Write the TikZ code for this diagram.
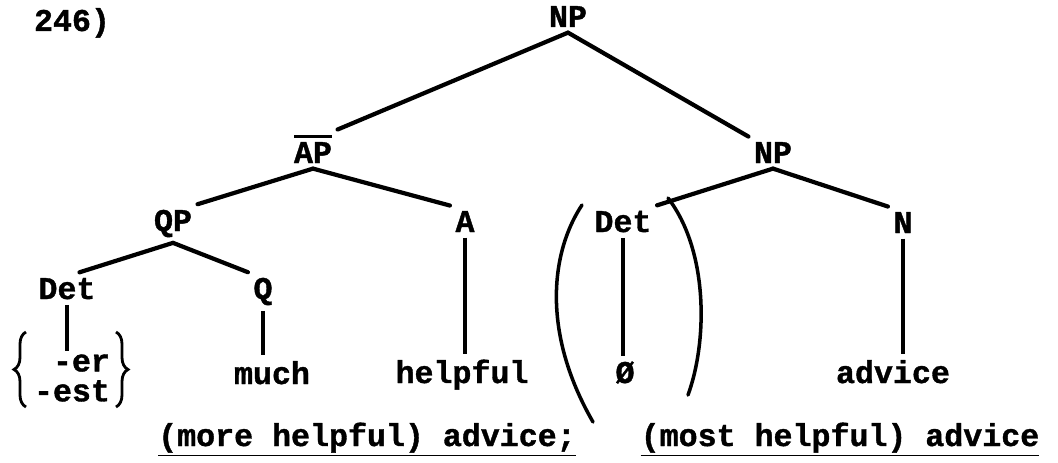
\documentclass[tikz,border=0pt]{standalone}
\usepackage{fontspec}
\setmonofont{Liberation Mono}[BoldFeatures={FakeBold=1.2}]
\usetikzlibrary{positioning,decorations.pathreplacing}
\newcommand{\barlabel}[1]{\vbox{\hrule height 1.8pt\kern 2.2pt\hbox{#1}}}

\begin{document}
\begin{tikzpicture}[
    x=0.02cm, y=-0.02cm,
    cat/.style={inner sep=3pt, anchor=base,
                font=\fontsize{18}{21}\selectfont\ttfamily\bfseries},
    braced/.style={inner sep=2pt, align=right,
                   font=\fontsize{18}{17}\selectfont\ttfamily\bfseries},
    branch/.style={line width=2.4pt, line cap=round},
    stem/.style={line width=1.8pt},
    paren/.style={line width=2pt, line cap=round},
    curly/.style={line width=1.6pt, decorate,
                  decoration={brace, amplitude=0.24cm}}
]
\useasboundingbox (0,0) rectangle (1058,463);

\node[cat] (num) at (72,31) {246)};

% top of the tree
\node[cat] (np) at (568,27) {NP};
\node[cat] (ap) at (313,163) {\barlabel{AP}};
\node[cat] (npr) at (773,163) {NP};

% third row
\node[cat] (qp) at (173,231) {QP};
\node[cat] (a) at (465,232) {A};
\node[cat] (detr) at (623,232) {Det};
\node[cat] (n) at (903,233) {N};

% fourth row
\node[cat] (detl) at (67,299) {Det};
\node[cat] (q) at (263,299) {Q};

% words
\node[braced] (morph) at (72,378) {-er\\-est};
\draw[curly] (26,407) -- (26,332);
\draw[curly] (116,332) -- (116,407);
\node[cat] (much) at (272,384) {much};
\node[cat] (helpful) at (462,383) {helpful};
\node[cat] (zero) at (625,383) {Ø};
\node[cat] (advice) at (893,383) {advice};

% glosses
\node[cat] (gloss1) at (367,446) {\underline{(more helpful) advice;}};
\node[cat] (gloss2) at (840,446) {\underline{(most helpful) advice}};

\draw[branch] (np.south) -- (ap.north east);
\draw[branch] (np.south) -- (npr.north west);
\draw[branch] (ap.south) -- (qp.north east);
\draw[branch] (ap.south) -- (a.north west);
\draw[branch] (npr.south) -- (detr.north east);
\draw[branch] (npr.south) -- (n.north west);
\draw[branch] (qp.south) -- ([xshift=0.25cm]detl.north);
\draw[branch] (qp.south) -- (q.north west);

\draw[stem] (detl.south) -- (detl.south |- morph.north);
\draw[stem] (q.south) -- (q.south |- much.north);
\draw[stem] (a.south) -- (a.south |- helpful.north);
\draw[stem] (detr.south) -- (detr.south |- zero.north);
\draw[stem] (n.south) -- (n.south |- advice.north);

% optional Det in parentheses
\draw[paren] (582,205) .. controls (552,250) and (540,330) .. (593,422);
\draw[paren] (668,198) .. controls (708,250) and (708,340) .. (688,395);

\end{tikzpicture}
\end{document}
